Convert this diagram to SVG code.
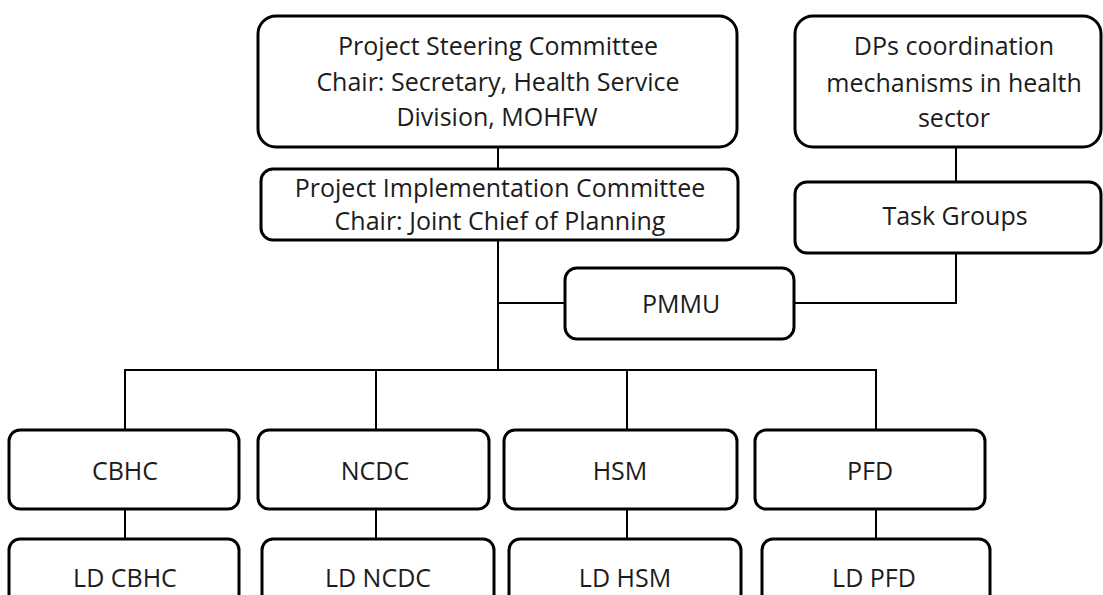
<svg xmlns="http://www.w3.org/2000/svg" width="1103" height="595" viewBox="0 0 1103 595">
  <style>
    .box { fill: #ffffff; stroke: #000000; stroke-width: 3; }
    .link { fill: none; stroke: #000000; stroke-width: 2; }
    text { font-family: "Open Sans", "Noto Sans", "Liberation Sans", sans-serif; font-size: 25px; fill: #1c1c1c; text-anchor: middle; }
  </style>
  <rect width="1103" height="595" fill="#ffffff"/>

  <!-- connectors -->
  <g id="connectors" class="link">
    <path d="M498 147 V169"/>
    <path d="M498 240 V370"/>
    <path d="M498 303 H565"/>
    <path d="M956 147 V182"/>
    <path d="M956 253 V303 H794"/>
    <path d="M125 430 V370 H876 V430"/>
    <path d="M376 370 V430"/>
    <path d="M627 370 V430"/>
    <path d="M125 509 V539"/>
    <path d="M376 509 V539"/>
    <path d="M627 509 V539"/>
    <path d="M876 509 V539"/>
  </g>

  <g id="psc">
    <rect class="box" x="258" y="16" width="479" height="131" rx="18"/>
    <text x="498" y="55">Project Steering Committee</text>
    <text x="498" y="91">Chair: Secretary, Health Service</text>
    <text x="497" y="126">Division, MOHFW</text>
  </g>

  <g id="pic">
    <rect class="box" x="261" y="169" width="477" height="71" rx="12"/>
    <text x="500" y="197">Project Implementation Committee</text>
    <text x="500" y="230">Chair: Joint Chief of Planning</text>
  </g>

  <g id="dps">
    <rect class="box" x="795" y="16" width="306" height="131" rx="18"/>
    <text x="954" y="55">DPs coordination</text>
    <text x="954" y="92">mechanisms in health</text>
    <text x="954" y="127">sector</text>
  </g>

  <g id="task-groups">
    <rect class="box" x="795" y="182" width="306" height="71" rx="12"/>
    <text x="955" y="225">Task Groups</text>
  </g>

  <g id="pmmu">
    <rect class="box" x="565" y="268" width="229" height="71" rx="12"/>
    <text x="681" y="313">PMMU</text>
  </g>

  <g id="cbhc">
    <rect class="box" x="9" y="430" width="230" height="79" rx="11"/>
    <text x="125" y="480">CBHC</text>
  </g>
  <g id="ncdc">
    <rect class="box" x="258" y="430" width="231" height="79" rx="11"/>
    <text x="375" y="480">NCDC</text>
  </g>
  <g id="hsm">
    <rect class="box" x="504" y="430" width="233" height="79" rx="11"/>
    <text x="620" y="480">HSM</text>
  </g>
  <g id="pfd">
    <rect class="box" x="755" y="430" width="230" height="79" rx="11"/>
    <text x="870" y="480">PFD</text>
  </g>

  <g id="ld-cbhc">
    <rect class="box" x="9" y="539" width="230" height="80" rx="11"/>
    <text x="125" y="587">LD CBHC</text>
  </g>
  <g id="ld-ncdc">
    <rect class="box" x="262" y="539" width="232" height="80" rx="11"/>
    <text x="378" y="587">LD NCDC</text>
  </g>
  <g id="ld-hsm">
    <rect class="box" x="509" y="539" width="232" height="80" rx="11"/>
    <text x="625" y="587">LD HSM</text>
  </g>
  <g id="ld-pfd">
    <rect class="box" x="762" y="539" width="228" height="80" rx="11"/>
    <text x="874" y="587">LD PFD</text>
  </g>
</svg>
